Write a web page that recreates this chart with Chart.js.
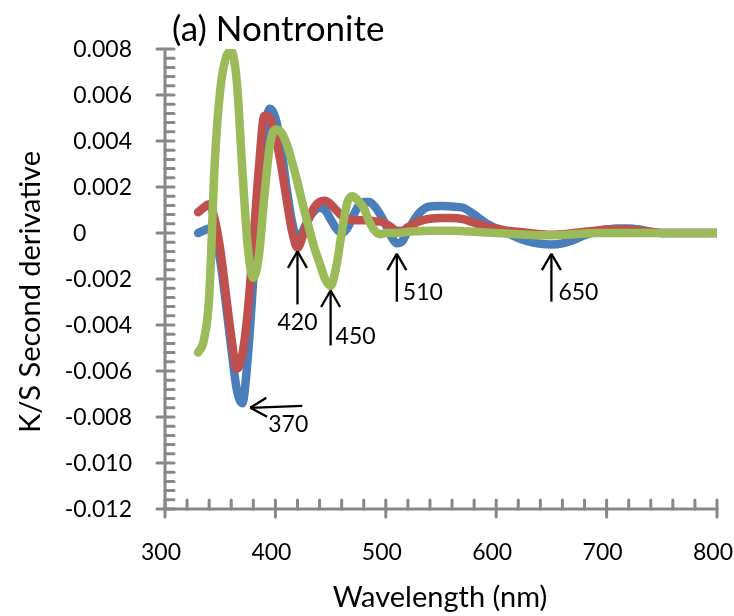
<!DOCTYPE html>
<html>
<head>
<meta charset="utf-8">
<title>(a) Nontronite</title>
<script src="https://cdn.jsdelivr.net/npm/chart.js@4.4.1/dist/chart.umd.min.js"></script>
<style>
  html, body { margin: 0; padding: 0; background: #ffffff; }
  #wrap { width: 734px; height: 616px; }
</style>
</head>
<body>
<div id="wrap"><canvas id="chart" width="734" height="616"></canvas></div>
<script>
// Wavelength grid (nm)
const wavelengths = [
  330, 335, 340, 345, 350, 355, 360, 365, 370, 375,
  380, 385, 390, 395, 400, 405, 410, 415, 420, 425,
  430, 435, 440, 445, 450, 455, 460, 465, 470, 475,
  480, 485, 490, 495, 500, 505, 510, 515, 520,
  530, 540, 550, 560, 570, 580, 590, 600, 610, 620,
  630, 640, 650, 660, 670, 680, 690, 700, 710, 720,
  730, 740, 750, 760, 770, 780, 790, 800
];

// Second derivative of K/S, sample 1 (blue)
const seriesBlue = [
  0.0000, 0.0001, 0.0002, -0.0002, -0.0012, -0.0030, -0.0050, -0.0068, -0.0074, -0.0054,
  -0.0020, 0.0016, 0.0043, 0.0054, 0.0050, 0.0038, 0.0020, 0.0005, -0.0003, 0.0001,
  0.0006, 0.00095, 0.0011, 0.0010, 0.0006, 0.0002, 0.0000, 0.0002, 0.0007, 0.00115,
  0.00135, 0.00135, 0.00115, 0.0008, 0.00035, -0.00015, -0.00045, -0.00035, 0.0001,
  0.00085, 0.00115, 0.00117, 0.00115, 0.0011, 0.0008, 0.00045, 0.0002, 0.0000, -0.00022,
  -0.00038, -0.00047, -0.0005, -0.00045, -0.0003, -0.0001, 0.00005, 0.00015, 0.0002, 0.0002,
  0.00015, 0.00005, 0.0000, 0.0000, 0.0000, 0.0000, 0.0000, 0.0000
];

// Second derivative of K/S, sample 2 (red)
const seriesRed = [
  0.0009, 0.0011, 0.00125, 0.0006, -0.0007, -0.0026, -0.0045, -0.0059, -0.0053, -0.0034,
  -0.0004, 0.0028, 0.0051, 0.0050, 0.0042, 0.0030, 0.0015, 0.0001, -0.00065, -0.0001,
  0.0006, 0.0011, 0.00135, 0.0014, 0.00125, 0.0010, 0.00075, 0.00062, 0.00055, 0.00055,
  0.00055, 0.00055, 0.0005, 0.0005, 0.0004, 0.00025, 0.0001, 0.0001, 0.00025,
  0.0005, 0.00062, 0.00065, 0.00065, 0.0006, 0.00045, 0.0003, 0.0002, 0.0001, 0.00005,
  0.0000, -0.00005, -0.00008, -0.00005, 0.0000, 0.00005, 0.0001, 0.00015, 0.00015, 0.00015,
  0.0001, 0.00005, 0.0000, 0.0000, 0.0000, 0.0000, 0.0000, 0.0000
];

// Second derivative of K/S, sample 3 (green)
const seriesGreen = [
  -0.0052, -0.0047, -0.0028, 0.0030, 0.0062, 0.0076, 0.0079, 0.0066, 0.0028, -0.0006,
  -0.00195, -0.0010, 0.0016, 0.0038, 0.0045, 0.0044, 0.0039, 0.0031, 0.0022, 0.0012,
  0.0003, -0.0006, -0.0013, -0.0020, -0.0023, -0.0015, 0.0000, 0.0013, 0.0016, 0.0014,
  0.0011, 0.0005, 0.0001, -0.00005, 0.0000, 0.0000, 0.0000, 0.00002, 0.00005,
  0.00008, 0.0001, 0.0001, 0.0001, 0.00008, 0.00005, 0.00002, 0.0000, -0.00003, -0.00005,
  -0.00008, -0.0001, -0.0001, -0.00008, -0.00005, -0.00002, 0.0000, 0.0000, 0.0000, 0.0000,
  0.0000, 0.0000, 0.0000, 0.0000, 0.0000, 0.0000, 0.0000, 0.0000
];

// Axis ticks
const xTickValues = [300, 400, 500, 600, 700, 800];
const yTickValues = [0.008, 0.006, 0.004, 0.002, 0, -0.002, -0.004, -0.006, -0.008, -0.010, -0.012];
const yTickLabels = ['0.008', '0.006', '0.004', '0.002', '0', '-0.002', '-0.004', '-0.006', '-0.008', '-0.010', '-0.012'];

// Marked absorption bands (nm) and the value at each arrow tip
const bandLabels = ['370', '420', '450', '510', '650'];
const bandTipValues = [-0.0076, -0.0008, -0.0025, -0.0009, -0.0009];

const FONT = 'Lato, "Open Sans", sans-serif';
const AXIS_COLOR = '#878787';

// Arrow geometry for each band mark (pixels)
const bandStyle = [
  { dir: 'left', gap: 8, len: 52, tx: 18, ty: 16, align: 'left' },
  { dir: 'up', gap: 0, len: 53, tx: 0, ty: 71, align: 'center' },
  { dir: 'up', gap: 0, len: 55, tx: 5, ty: 45, align: 'left' },
  { dir: 'up', gap: 0, len: 48, tx: 6, ty: 38, align: 'left' },
  { dir: 'up', gap: 0, len: 48, tx: 7, ty: 38, align: 'left' }
];

function seg(ctx, ax, ay, bx, by) {
  ctx.beginPath();
  ctx.moveTo(ax, ay);
  ctx.lineTo(bx, by);
  ctx.stroke();
}

function arrow(ctx, tailX, tailY, tipX, tipY) {
  const ang = Math.atan2(tipY - tailY, tipX - tailX);
  const head = 19, spread = Math.PI / 6;
  seg(ctx, tailX, tailY, tipX, tipY);
  seg(ctx, tipX, tipY, tipX - head * Math.cos(ang - spread), tipY - head * Math.sin(ang - spread));
  seg(ctx, tipX, tipY, tipX - head * Math.cos(ang + spread), tipY - head * Math.sin(ang + spread));
}

const axesPlugin = {
  id: 'excelAxes',
  beforeDatasetsDraw(chart) {
    const ctx = chart.ctx;
    const xs = chart.scales.x, ys = chart.scales.y;
    const left = xs.getPixelForValue(300), right = xs.getPixelForValue(800);
    const bottom = ys.getPixelForValue(-0.012), top = ys.getPixelForValue(0.008);
    ctx.save();
    ctx.strokeStyle = AXIS_COLOR;
    ctx.lineWidth = 3;
    ctx.lineCap = 'round';
    seg(ctx, left, top, left, bottom);
    seg(ctx, left, bottom, right, bottom);
    // y ticks: major every 0.002, minor every 0.0004
    for (let k = 0; k <= 50; k++) {
      const py = ys.getPixelForValue(-0.012 + k * 0.0004);
      if (k % 5 === 0) seg(ctx, left - 8, py, left + 9, py);
      else seg(ctx, left, py, left + 9, py);
    }
    // x ticks: major every 100 nm, minor every 20 nm
    for (let k = 0; k <= 25; k++) {
      const px = xs.getPixelForValue(300 + k * 20);
      if (k % 5 === 0) seg(ctx, px, bottom - 9, px, bottom + 8);
      else seg(ctx, px, bottom - 9, px, bottom);
    }
    ctx.restore();
  },
  afterDraw(chart) {
    const ctx = chart.ctx;
    const xs = chart.scales.x, ys = chart.scales.y;
    const left = xs.getPixelForValue(300);
    const bottom = ys.getPixelForValue(-0.012);
    ctx.save();
    ctx.fillStyle = '#000000';

    // tick labels
    ctx.font = '23px ' + FONT;
    ctx.textBaseline = 'alphabetic';
    ctx.textAlign = 'center';
    xTickValues.forEach(v => {
      ctx.fillText(String(v), xs.getPixelForValue(v) - 4, bottom + 51);
    });
    yTickValues.forEach((v, i) => {
      const py = ys.getPixelForValue(v) + 8;
      if (yTickLabels[i] === '0') {
        ctx.textAlign = 'left';
        ctx.fillText(yTickLabels[i], left - 92, py);
      } else {
        ctx.textAlign = 'right';
        ctx.fillText(yTickLabels[i], left - 33, py);
      }
    });

    // axis titles
    ctx.font = '29px ' + FONT;
    ctx.textAlign = 'center';
    ctx.fillText('Wavelength (nm)', 440, 607);
    ctx.save();
    ctx.translate(40, 292);
    ctx.rotate(-Math.PI / 2);
    ctx.fillText('K/S Second derivative', 0, 0);
    ctx.restore();

    // panel title
    ctx.font = '35px ' + FONT;
    ctx.textAlign = 'left';
    ctx.fillText('(a) Nontronite', 172, 41);

    // band arrows and labels
    ctx.strokeStyle = '#000000';
    ctx.lineWidth = 2.3;
    ctx.lineCap = 'butt';
    ctx.font = '23px ' + FONT;
    bandLabels.forEach((lab, i) => {
      const s = bandStyle[i];
      let tipX = xs.getPixelForValue(Number(lab));
      const tipY = ys.getPixelForValue(bandTipValues[i]);
      if (s.dir === 'left') {
        tipX += s.gap;
        arrow(ctx, tipX + s.len, tipY - 2, tipX, tipY);
      } else {
        arrow(ctx, tipX, tipY + s.len, tipX, tipY);
      }
      ctx.textAlign = s.align;
      ctx.fillText(lab, tipX + s.tx, tipY + s.ty + 8);
    });
    ctx.restore();
  }
};

function points(values) {
  return wavelengths.map((w, i) => ({ x: w, y: values[i] }));
}

const lineStyle = {
  borderWidth: 8.5,
  pointRadius: 0,
  pointHoverRadius: 0,
  fill: false,
  cubicInterpolationMode: 'monotone',
  borderCapStyle: 'round',
  borderJoinStyle: 'round'
};

new Chart(document.getElementById('chart'), {
  type: 'line',
  data: {
    datasets: [
      Object.assign({ label: 'Sample 3', data: points(seriesGreen), borderColor: '#9BBB59' }, lineStyle),
      Object.assign({ label: 'Sample 2', data: points(seriesRed), borderColor: '#C0504D' }, lineStyle),
      Object.assign({ label: 'Sample 1', data: points(seriesBlue), borderColor: '#4A7EBB' }, lineStyle)
    ]
  },
  options: {
    responsive: false,
    animation: false,
    devicePixelRatio: 1,
    layout: { padding: { top: 49, right: 17, bottom: 0, left: 0 } },
    plugins: { legend: { display: false }, tooltip: { enabled: false }, title: { display: false } },
    scales: {
      x: {
        type: 'linear', min: 300, max: 800,
        grid: { display: false }, border: { display: false },
        ticks: { display: false },
        afterFit(scale) { scale.height = 107; scale.paddingLeft = 0; scale.paddingRight = 0; }
      },
      y: {
        type: 'linear', min: -0.012, max: 0.008,
        grid: { display: false }, border: { display: false },
        ticks: { display: false },
        afterFit(scale) { scale.width = 165; scale.paddingTop = 0; scale.paddingBottom = 0; }
      }
    }
  },
  plugins: [axesPlugin]
});
</script>
</body>
</html>
